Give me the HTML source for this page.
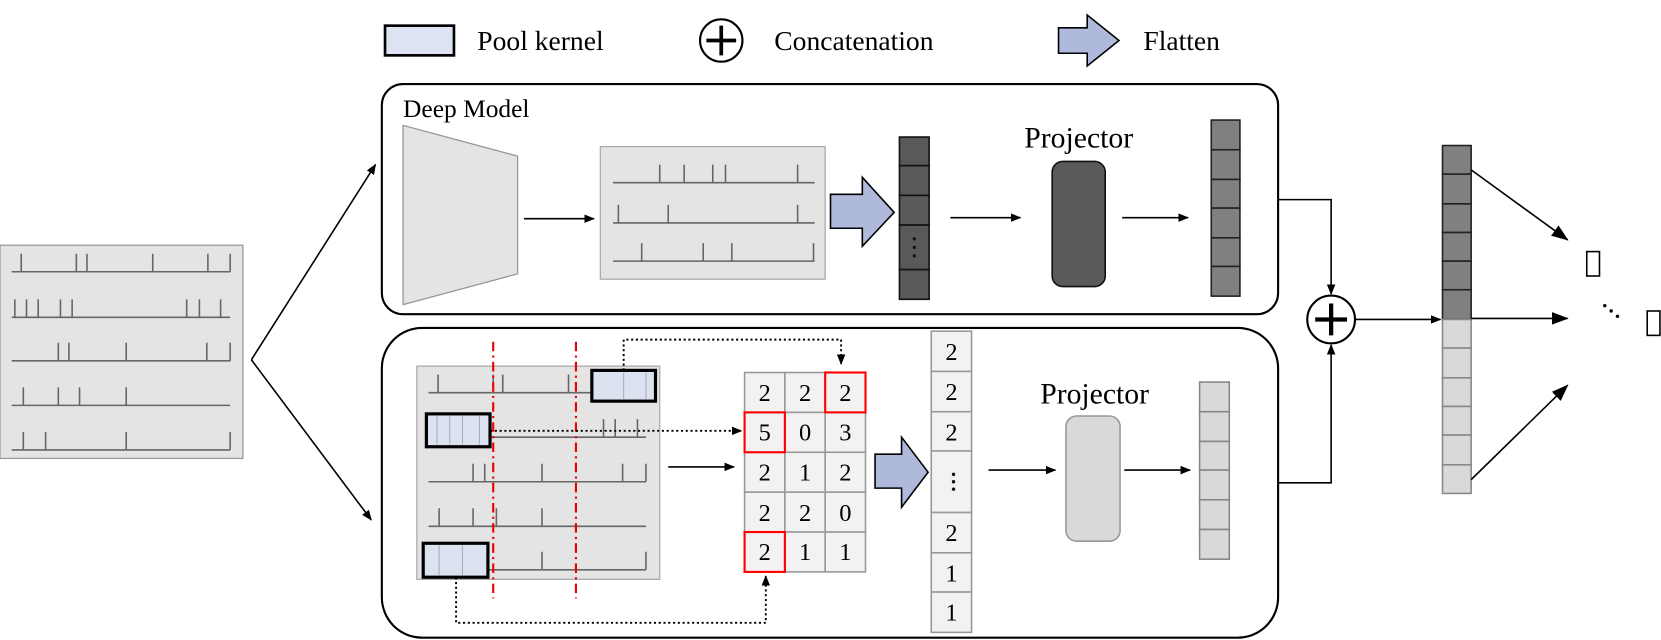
<!DOCTYPE html>
<html><head><meta charset="utf-8"><style>html,body{margin:0;padding:0;background:#fff}svg{display:block}</style></head>
<body>
<svg width="1661" height="640" viewBox="0 0 1566 603" xmlns="http://www.w3.org/2000/svg" font-family="Liberation Serif, serif">
<defs>
<marker id="ah" markerWidth="10" markerHeight="8" refX="9" refY="4" orient="auto" markerUnits="userSpaceOnUse"><path d="M0,0 L10,4 L0,8 z" fill="#000"/></marker>
<marker id="ahb" markerWidth="16" markerHeight="12" refX="15" refY="6" orient="auto" markerUnits="userSpaceOnUse"><path d="M0,0 L16,6 L0,12 z" fill="#000"/></marker>
</defs>
<!-- Legend -->
<rect x="363" y="24" width="65" height="28" fill="#dde3f2" stroke="#000" stroke-width="2.5"/>
<text x="450" y="47" font-size="26">Pool kernel</text>
<circle cx="680" cy="38" r="20" fill="#fff" stroke="#000" stroke-width="2"/>
<path d="M666,38 H694 M680,24 V52" stroke="#000" stroke-width="3.5"/>
<text x="730" y="47" font-size="26">Concatenation</text>
<path d="M998,26 H1025 V14 L1055,38 L1025,62 V50 H998 Z" fill="#aeb9dc" stroke="#000" stroke-width="1.5"/>
<text x="1078" y="47" font-size="26">Flatten</text>

<!-- Input panel -->
<rect x="0" y="231" width="229" height="201" fill="#e4e4e4" stroke="#999" stroke-width="1.2"/>
<g stroke="#666" stroke-width="1.5">
<path d="M11,256 H217 M11,299 H217 M11,340 H217 M11,382 H217 M11,424 H217"/>
<path d="M20,256v-17M72,256v-17M82,256v-17M144,256v-17M196,256v-17M217,256v-17"/>
<path d="M14,299v-17M25,299v-17M36,299v-17M57,299v-17M68,299v-17M176,299v-17M188,299v-17M208,299v-17"/>
<path d="M55,340v-17M65,340v-17M119,340v-17M195,340v-17M217,340v-17"/>
<path d="M22,382v-17M55,382v-17M75,382v-17M119,382v-17"/>
<path d="M22,424v-17M43,424v-17M119,424v-17M217,424v-17"/>
</g>
<path d="M237,339 L354,155" stroke="#000" stroke-width="1.5" marker-end="url(#ah)"/>
<path d="M237,339 L350,490" stroke="#000" stroke-width="1.5" marker-end="url(#ah)"/>

<!-- Top box -->
<rect x="360" y="79" width="845" height="217" rx="20" fill="#fff" stroke="#000" stroke-width="2"/>
<text x="380" y="110" font-size="24">Deep Model</text>
<path d="M380,118 L488,147 L488,258 L380,287 Z" fill="#e4e4e4" stroke="#999" stroke-width="1.2"/>
<path d="M494,206 H560" stroke="#000" stroke-width="1.5" marker-end="url(#ah)"/>
<rect x="566" y="138" width="212" height="125" fill="#e4e4e4" stroke="#aaa" stroke-width="1.2"/>
<g stroke="#666" stroke-width="1.5">
<path d="M578,172 H768 M578,210 H768 M578,246 H768"/>
<path d="M622,172v-17M645,172v-17M672,172v-17M684,172v-17M752,172v-17"/>
<path d="M583,210v-17M630,210v-17M752,210v-17"/>
<path d="M605,246v-17M663,246v-17M690,246v-17M767,246v-17"/>
</g>
<path d="M783,183 H813 V167 L843,200 L813,232 V215 H783 Z" fill="#aeb9dc" stroke="#000" stroke-width="1.5"/>
<g fill="#595959" stroke="#111" stroke-width="1.5">
<rect x="848" y="129" width="28" height="27"/><rect x="848" y="156" width="28" height="28"/><rect x="848" y="184" width="28" height="28"/><rect x="848" y="212" width="28" height="42"/><rect x="848" y="254" width="28" height="28"/>
</g>
<g fill="#111"><circle cx="862" cy="225" r="1.5"/><circle cx="862" cy="233" r="1.5"/><circle cx="862" cy="241" r="1.5"/></g>
<path d="M896,205 H962" stroke="#000" stroke-width="1.5" marker-end="url(#ah)"/>
<text x="1017" y="139" font-size="28" text-anchor="middle">Projector</text>
<rect x="992" y="152" width="50" height="118" rx="10" fill="#595959" stroke="#111" stroke-width="1.5"/>
<path d="M1058,205 H1120" stroke="#000" stroke-width="1.5" marker-end="url(#ah)"/>
<g fill="#808080" stroke="#222" stroke-width="1.5">
<rect x="1142" y="113" width="27" height="28"/><rect x="1142" y="141" width="27" height="28"/><rect x="1142" y="169" width="27" height="27"/><rect x="1142" y="196" width="27" height="28"/><rect x="1142" y="224" width="27" height="27"/><rect x="1142" y="251" width="27" height="28"/>
</g>

<!-- Bottom box -->
<rect x="360" y="309" width="845" height="292" rx="38" fill="#fff" stroke="#000" stroke-width="2"/>
<rect x="393" y="345" width="229" height="201" fill="#e4e4e4" stroke="#aaa" stroke-width="1.2"/>
<g stroke="#666" stroke-width="1.5">
<path d="M404,370 H609 M404,412 H609 M404,454 H609 M404,496 H609 M404,537 H609"/>
<path d="M413,370v-17M465,370v-17M474,370v-17M536,370v-17M589,370v-17M609,370v-17"/>
<path d="M569,412v-17M580,412v-17M601,412v-17"/>
<path d="M446,454v-17M457,454v-17M511,454v-17M587,454v-17M609,454v-17"/>
<path d="M414,496v-17M446,496v-17M468,496v-17M511,496v-17"/>
<path d="M511,537v-17M609,537v-17"/>
</g>
<g stroke="#e00" stroke-width="2" stroke-dasharray="9,4,2,4"><path d="M465,322 V564 M543,322 V564"/></g>
<g fill="#dce2f0" stroke="#000" stroke-width="3">
<rect x="558" y="349" width="60" height="29"/><rect x="402" y="390" width="60" height="31"/><rect x="399" y="512" width="61" height="32"/>
</g>
<g stroke="#aab" stroke-width="1"><path d="M588,351v25M609,351v25M412,392v27M424,392v27M436,392v27M452,392v27M414,514v28M436,514v28"/></g>
<!-- dotted -->
<g fill="none" stroke="#000" stroke-width="1.8" stroke-dasharray="2,2.5">
<path d="M588,349 V320 H793 V343" marker-end="url(#ah)"/>
<path d="M462,406 H699" marker-end="url(#ah)"/>
<path d="M430,544 V587 H722 V543" marker-end="url(#ah)"/>
</g>
<path d="M630,440 H692" stroke="#000" stroke-width="1.5" marker-end="url(#ah)"/>
<!-- table -->
<g fill="#f2f2f2" stroke="#999" stroke-width="1.5">
<rect x="702" y="351" width="38" height="37.6"/><rect x="740" y="351" width="38" height="37.6"/><rect x="778" y="351" width="38" height="37.6"/>
<rect x="702" y="388.6" width="38" height="37.6"/><rect x="740" y="388.6" width="38" height="37.6"/><rect x="778" y="388.6" width="38" height="37.6"/>
<rect x="702" y="426.2" width="38" height="37.6"/><rect x="740" y="426.2" width="38" height="37.6"/><rect x="778" y="426.2" width="38" height="37.6"/>
<rect x="702" y="463.8" width="38" height="37.6"/><rect x="740" y="463.8" width="38" height="37.6"/><rect x="778" y="463.8" width="38" height="37.6"/>
<rect x="702" y="501.4" width="38" height="37.6"/><rect x="740" y="501.4" width="38" height="37.6"/><rect x="778" y="501.4" width="38" height="37.6"/>
</g>
<g fill="none" stroke="#f00" stroke-width="2"><rect x="778" y="351" width="38" height="37.6"/><rect x="702" y="388.6" width="38" height="37.6"/><rect x="702" y="501.4" width="38" height="37.6"/></g>
<g font-size="23" text-anchor="middle">
<text x="721" y="378">2</text><text x="759" y="378">2</text><text x="797" y="378">2</text>
<text x="721" y="415">5</text><text x="759" y="415">0</text><text x="797" y="415">3</text>
<text x="721" y="453">2</text><text x="759" y="453">1</text><text x="797" y="453">2</text>
<text x="721" y="491">2</text><text x="759" y="491">2</text><text x="797" y="491">0</text>
<text x="721" y="528">2</text><text x="759" y="528">1</text><text x="797" y="528">1</text>
</g>
<path d="M825,428 H850 V412 L875,445 L850,478 V460 H825 Z" fill="#aeb9dc" stroke="#000" stroke-width="1.5"/>
<g fill="#f2f2f2" stroke="#999" stroke-width="1.5">
<rect x="878" y="312" width="38" height="38"/><rect x="878" y="350" width="38" height="38"/><rect x="878" y="388" width="38" height="37"/><rect x="878" y="425" width="38" height="58"/><rect x="878" y="483" width="38" height="38"/><rect x="878" y="521" width="38" height="37"/><rect x="878" y="558" width="38" height="38"/>
</g>
<g font-size="23" text-anchor="middle">
<text x="897" y="339">2</text><text x="897" y="377">2</text><text x="897" y="415">2</text><text x="897" y="510">2</text><text x="897" y="548">1</text><text x="897" y="585">1</text>
</g>
<g fill="#111"><circle cx="899" cy="447" r="1.6"/><circle cx="899" cy="454" r="1.6"/><circle cx="899" cy="461" r="1.6"/></g>
<path d="M932,443 H995" stroke="#000" stroke-width="1.5" marker-end="url(#ah)"/>
<text x="1032" y="380" font-size="28" text-anchor="middle">Projector</text>
<rect x="1005" y="392" width="51" height="118" rx="10" fill="#d9d9d9" stroke="#999" stroke-width="1.5"/>
<path d="M1060,443 H1122" stroke="#000" stroke-width="1.5" marker-end="url(#ah)"/>
<g fill="#d9d9d9" stroke="#888" stroke-width="1.5">
<rect x="1131" y="360" width="28" height="28"/><rect x="1131" y="388" width="28" height="28"/><rect x="1131" y="416" width="28" height="27"/><rect x="1131" y="443" width="28" height="28"/><rect x="1131" y="471" width="28" height="28"/><rect x="1131" y="499" width="28" height="28"/>
</g>

<!-- concat -->
<path d="M1205,188 H1255 V277" fill="none" stroke="#000" stroke-width="1.5" marker-end="url(#ah)"/>
<path d="M1205,455 H1255 V325" fill="none" stroke="#000" stroke-width="1.5" marker-end="url(#ah)"/>
<circle cx="1255" cy="301" r="22.5" fill="#fff" stroke="#000" stroke-width="2"/>
<path d="M1240,301 H1270 M1255,286 V316" stroke="#000" stroke-width="4"/>
<path d="M1278,301 H1358" stroke="#000" stroke-width="1.5" marker-end="url(#ah)"/>
<g fill="#808080" stroke="#222" stroke-width="1.5">
<rect x="1360" y="137" width="27" height="27"/><rect x="1360" y="164" width="27" height="28"/><rect x="1360" y="192" width="27" height="27"/><rect x="1360" y="219" width="27" height="27"/><rect x="1360" y="246" width="27" height="27"/><rect x="1360" y="273" width="27" height="28"/>
</g>
<g fill="#d9d9d9" stroke="#888" stroke-width="1.5">
<rect x="1360" y="301" width="27" height="27"/><rect x="1360" y="328" width="27" height="28"/><rect x="1360" y="356" width="27" height="27"/><rect x="1360" y="383" width="27" height="27"/><rect x="1360" y="410" width="27" height="28"/><rect x="1360" y="438" width="27" height="27"/>
</g>
<path d="M1387,160 L1478,226" stroke="#000" stroke-width="1.5" marker-end="url(#ahb)"/>
<path d="M1387,300 L1478,300" stroke="#000" stroke-width="1.5" marker-end="url(#ahb)"/>
<path d="M1387,452 L1478,363" stroke="#000" stroke-width="1.5" marker-end="url(#ahb)"/>
<rect x="1496" y="237" width="12" height="23" fill="none" stroke="#000" stroke-width="1.5"/>
<rect x="1553" y="293" width="12" height="23" fill="none" stroke="#000" stroke-width="1.5"/>
<g fill="#000"><circle cx="1513" cy="288" r="1.6"/><circle cx="1519" cy="293" r="1.6"/><circle cx="1525" cy="298" r="1.6"/></g>
</svg>
</body></html>
